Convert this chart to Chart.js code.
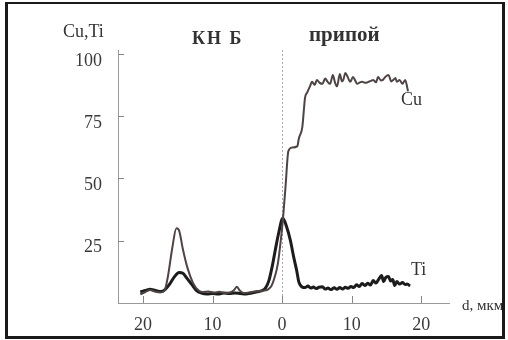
<!DOCTYPE html>
<html>
<head>
<meta charset="utf-8">
<script src="https://cdn.jsdelivr.net/npm/chart.js@4"></script>
<style>
  body { margin: 0; background: #fff; }
  #wrap { position: relative; width: 508px; height: 340px; overflow: hidden; }
  canvas { position: absolute; left: 0; top: 0; }
  .frame { position: absolute; left: 5px; top: 2px; width: 500px; height: 337px;
           box-sizing: border-box; border: 3px solid #1a1a1a; border-top-width: 2px; }
  .lbl { position: absolute; font-family: "Liberation Serif", "DejaVu Serif", serif;
         color: #333; line-height: 1; white-space: nowrap; }
</style>
</head>
<body>
<div id="wrap">
  <canvas id="myChart" width="508" height="340"></canvas>
  <div class="lbl" style="left:63px; top:22px; font-size:18px;">Cu,Ti</div>
  <div class="lbl" style="left:192px; top:29px; font-size:18px; font-weight:bold; letter-spacing:2px;">КН Б</div>
  <div class="lbl" style="left:309px; top:24px; font-size:21px; font-weight:bold;">припой</div>
  <div class="lbl" style="left:401px; top:90px; font-size:18px;">Cu</div>
  <div class="lbl" style="left:411px; top:260px; font-size:18px;">Ti</div>
  <div class="lbl" style="left:462px; top:298px; font-size:15px;">d, мкм</div>
  <div class="frame"></div>
</div>
<script>
// depth, мкм (negative = КНБ side, positive = припой side)
const cuX = [-20.4, -19.8, -19.0, -18.3, -17.5, -16.9, -16.4, -15.8, -15.2, -14.8, -14.3, -13.6, -12.8, -12.0, -11.4,
  -10.6, -9.8, -9.0, -8.2, -7.4, -6.9, -6.5, -6.1, -5.5, -4.8, -4.0, -3.3, -2.6, -2.0, -1.5, -1.0, -0.6, -0.2, 0.1,
  0.5, 0.9, 1.4, 2.2, 2.4, 2.9, 3.3, 3.6, 4.0, 4.3, 4.7, 5.0, 5.4, 5.8, 6.2, 6.5, 6.9, 7.3, 7.6, 7.9, 8.3, 8.6, 8.8,
  9.1, 9.4, 9.8, 10.2, 10.5, 10.8, 11.2, 11.5, 12.0, 12.4, 12.8, 13.1, 13.5, 13.8, 14.2, 14.5, 14.9, 15.3, 15.7,
  16.0, 16.3, 16.5, 16.9, 17.3, 17.7, 18.0, 18.1];
const cuY = [3.5, 4.2, 5.2, 4.6, 4.2, 5.0, 11, 22, 30, 29, 22, 14, 8, 5, 4.4,
  4.6, 4.2, 4.5, 4.0, 4.3, 5.2, 6.5, 5.0, 4.0, 4.2, 4.6, 4.8, 5.0, 5.5, 7, 11, 16, 25, 33,
  47, 61, 62.4, 63, 66, 70.5, 82.5, 84.5, 87, 88.8, 87.6, 89.6, 88.4, 88, 90.2, 89, 88, 91.6, 88.6, 87, 92, 89, 89.6,
  92.4, 91, 88.8, 90.8, 89.4, 88, 88.6, 88.8, 88.4, 88.8, 89.2, 89.6, 88.6, 90.8, 89.4, 89.6, 91, 91.6, 89,
  89.6, 90.4, 88.8, 89.6, 88, 89.6, 86.5, 85];

const tiX = [-20.4, -19.6, -19.0, -18.2, -17.4, -16.8, -16.2, -15.5, -14.8, -14.3, -13.7, -13.0, -12.3, -11.6, -10.8,
  -10.0, -9.2, -8.4, -7.6, -6.8, -6.0, -5.2, -4.4, -3.6, -2.9, -2.4, -1.9, -1.4, -1.0, -0.5, 0.1, 0.6, 1.2, 1.7,
  2.1, 2.4, 2.9, 3.3, 3.7, 4.1, 4.5, 4.9, 5.3, 5.8, 6.2, 6.6, 7.0, 7.5, 7.9, 8.3, 8.7, 9.1, 9.5, 9.9, 10.3, 10.7,
  11.1, 11.5, 11.9, 12.3, 12.7, 13.1, 13.5, 13.9, 14.3, 14.6, 14.9, 15.3, 15.6, 15.9, 16.2, 16.5, 16.9, 17.3,
  17.7, 18.0, 18.4];
const tiY = [4.5, 5.0, 5.5, 5.0, 4.6, 5.5, 7.5, 10.5, 12.2, 12, 10, 7.5, 5, 4, 3.6,
  3.8, 3.6, 4.0, 3.8, 4.0, 3.8, 3.6, 4.0, 4.5, 5, 6, 9, 15, 21, 28, 34, 31, 25, 18,
  13, 8.5, 6.4, 6.2, 6.8, 6.0, 6.4, 5.8, 6.3, 6.5, 5.6, 6.0, 5.4, 6.1, 5.5, 6.2, 5.6, 6.3, 5.9, 6.6, 6.2, 7.3,
  6.6, 7.8, 7.0, 7.9, 7.2, 9.0, 8.0, 9.6, 11.0, 8.6, 10.2, 10.6, 8.8, 9.4, 7.0, 8.6, 7.6, 8.2,
  7.4, 7.6, 6.8];

const xTicks = [-20, -10, 0, 10, 20];
const yTicks = [25, 50, 75, 100];

const tickFont = { family: '"Liberation Serif", serif', size: 18 };

// inward tick marks and the dotted boundary line at d = 0
const decor = {
  id: 'decor',
  beforeDatasetsDraw(chart) {
    const { ctx, chartArea, scales } = chart;
    ctx.save();
    ctx.strokeStyle = '#aaa';
    ctx.lineWidth = 1;
    ctx.setLineDash([2, 2]);
    const x0 = Math.round(scales.x.getPixelForValue(0)) + 0.5;
    ctx.beginPath();
    ctx.moveTo(x0, chartArea.top);
    ctx.lineTo(x0, chartArea.bottom);
    ctx.stroke();
    ctx.setLineDash([]);
    ctx.strokeStyle = '#888';
    yTicks.forEach(v => {
      const py = Math.round(scales.y.getPixelForValue(v)) + 0.5;
      ctx.beginPath();
      ctx.moveTo(chartArea.left, py);
      ctx.lineTo(chartArea.left + 6, py);
      ctx.stroke();
    });
    xTicks.forEach(v => {
      const px = Math.round(scales.x.getPixelForValue(v)) + 0.5;
      ctx.beginPath();
      ctx.moveTo(px, chartArea.bottom);
      ctx.lineTo(px, chartArea.bottom - 7);
      ctx.stroke();
    });
    ctx.restore();
  }
};

const config = {
  type: 'line',
  data: {
    datasets: [
      {
        label: 'Cu',
        data: cuX.map((x, i) => ({ x: x, y: cuY[i] })),
        borderColor: '#4e4444',
        borderWidth: 2,
        pointRadius: 0,
        cubicInterpolationMode: 'monotone'
      },
      {
        label: 'Ti',
        data: tiX.map((x, i) => ({ x: x, y: tiY[i] })),
        borderColor: '#1c1c1c',
        borderWidth: 3,
        pointRadius: 0,
        cubicInterpolationMode: 'monotone'
      }
    ]
  },
  options: {
    responsive: false,
    animation: false,
    layout: { padding: { top: 50, right: 59, left: 0, bottom: 0 } },
    plugins: { legend: { display: false }, tooltip: { enabled: false } },
    scales: {
      x: {
        type: 'linear',
        min: -23.6,
        max: 24,
        afterBuildTicks: s => { s.ticks = xTicks.map(v => ({ value: v })); },
        afterFit: s => { s.height = 37; },
        ticks: { callback: v => Math.abs(v), font: tickFont, color: '#3a3a3a', padding: 11, maxRotation: 0 },
        grid: { drawOnChartArea: false, drawTicks: false },
        border: { color: '#999', width: 1 }
      },
      y: {
        min: 0,
        max: 101.6,
        afterBuildTicks: s => { s.ticks = yTicks.map(v => ({ value: v })); },
        afterFit: s => { s.width = 118; },
        ticks: { font: tickFont, color: '#3a3a3a', padding: 16, labelOffset: 7 },
        grid: { drawOnChartArea: false, drawTicks: false },
        border: { color: '#999', width: 1 }
      }
    }
  },
  plugins: [decor]
};

const myChart = new Chart(document.getElementById('myChart'), config);
</script>
</body>
</html>
